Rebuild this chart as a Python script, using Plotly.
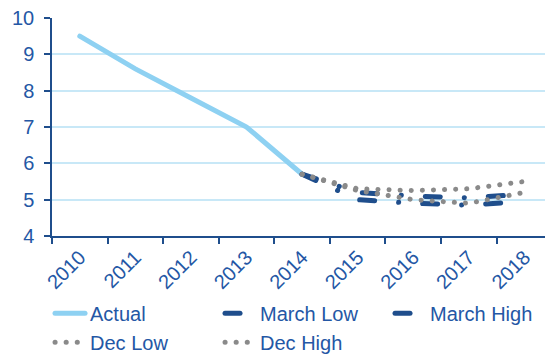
import plotly.graph_objects as go

years = ["2010", "2011", "2012", "2013", "2014", "2015", "2016", "2017", "2018"]
actual = [9.5, 8.6, 7.8, 7.0, 5.7, None, None, None, None]
forecast_years = ["2014", "2015", "2016", "2017", "2018"]
march_low = [5.7, 5.0, 4.9, 4.85, 4.95]
march_high = [5.7, 5.2, 5.1, 5.05, 5.15]
dec_low = [5.7, 5.25, 5.0, 4.9, 5.2]
dec_high = [5.7, 5.3, 5.25, 5.3, 5.5]

LIGHT = "#8ED1F2"
DARK = "#1F4E8C"
GREY = "#8A8A8A"
TEXT = "#2457A5"
GRID = "#C8E8F7"
FONT = "Liberation Sans, Arial, sans-serif"

# round caps turn the zero-length dash segments into dots
DASH_DOT = "15px,24px,0.1px,24px"
DOTS = "0.1px,11px"

fig = go.Figure()
fig.add_trace(go.Scatter(x=years, y=actual, name="Actual", mode="lines",
                         line=dict(color=LIGHT, width=5)))
fig.add_trace(go.Scatter(x=forecast_years, y=march_low, name="March Low", mode="lines",
                         line=dict(color=DARK, width=5, dash=DASH_DOT)))
fig.add_trace(go.Scatter(x=forecast_years, y=march_high, name="March High", mode="lines",
                         line=dict(color=DARK, width=5, dash=DASH_DOT)))
fig.add_trace(go.Scatter(x=forecast_years, y=dec_low, name="Dec Low", mode="lines",
                         line=dict(color=GREY, width=5, dash=DOTS)))
fig.add_trace(go.Scatter(x=forecast_years, y=dec_high, name="Dec High", mode="lines",
                         line=dict(color=GREY, width=5, dash=DOTS)))

fig.update_layout(
    width=545, height=354,
    margin=dict(l=52, r=0, t=18, b=118, autoexpand=False),
    paper_bgcolor="white", plot_bgcolor="white",
    font=dict(family=FONT, color=TEXT, size=20),
    showlegend=True,
    legend=dict(orientation="h", x=-0.004, xanchor="left", y=-0.265, yanchor="top",
                entrywidth=125, entrywidthmode="pixels",
                font=dict(size=20, color=TEXT), bgcolor="rgba(0,0,0,0)",
                tracegroupgap=0, itemsizing="constant"),
)
fig.update_xaxes(
    type="category", categoryorder="array", categoryarray=years,
    range=[-0.5, 8.37], showgrid=False, automargin=False,
    showline=True, linecolor=DARK, linewidth=1.5,
    ticks="outside", ticklen=6, tickcolor=DARK, tickwidth=1.5,
    tickson="boundaries", tickangle=-45, tickfont=dict(size=20, color=TEXT),
)
fig.update_yaxes(
    range=[4, 10], dtick=1, showgrid=True, gridcolor=GRID, gridwidth=1.5,
    showline=True, linecolor=DARK, linewidth=1.5, automargin=False,
    ticks="outside", ticklen=6, tickcolor=DARK, tickwidth=1.5,
    tickfont=dict(size=20, color=TEXT), ticklabelstandoff=6, zeroline=False,
)

round_caps = """
var gd = document.getElementById('{plot_id}');
function roundCaps() {
  gd.querySelectorAll('path.js-line').forEach(function (p) {
    p.style.strokeLinecap = 'round';
  });
}
roundCaps();
gd.on('plotly_afterplot', roundCaps);
"""

fig.write_html("out.html", post_script=round_caps)
